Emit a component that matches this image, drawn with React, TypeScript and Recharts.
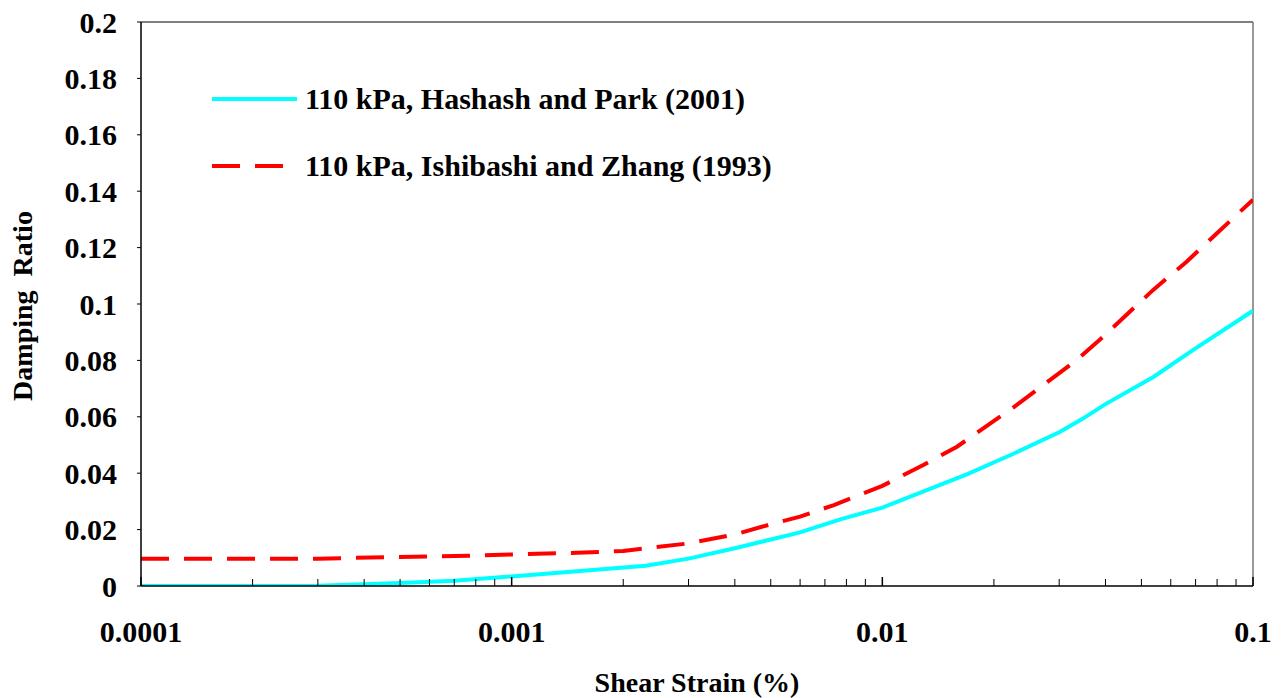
import React from 'react';
import { LineChart, Line, XAxis, YAxis, Legend, ReferenceLine, Label } from 'recharts';

// ---- Data ----
const hashashStrain = [0.0001, 0.0002, 0.0003, 0.0004, 0.0005, 0.0007, 0.001, 0.0015, 0.0023, 0.003, 0.004, 0.006, 0.0077, 0.01, 0.0169, 0.0225, 0.03, 0.0345, 0.04, 0.054, 0.069, 0.1];
const hashashDamping = [0, 0, 0.0001, 0.0006, 0.0011, 0.0019, 0.0034, 0.0052, 0.0072, 0.0097, 0.0134, 0.019, 0.0236, 0.0278, 0.0396, 0.0468, 0.0545, 0.0591, 0.0645, 0.0742, 0.0837, 0.0976];

const ishibashiStrain = [0.0001, 0.0003, 0.0005, 0.0007, 0.001, 0.0015, 0.002, 0.0023, 0.003, 0.004, 0.0051, 0.006, 0.0074, 0.01, 0.0129, 0.0159, 0.0225, 0.0277, 0.0334, 0.0394, 0.0538, 0.0662, 0.0798, 0.1];
const ishibashiDamping = [0.0097, 0.0097, 0.0103, 0.0106, 0.0112, 0.0118, 0.0124, 0.0134, 0.0151, 0.0183, 0.0222, 0.0246, 0.0287, 0.0355, 0.0429, 0.0494, 0.0632, 0.0721, 0.0801, 0.0884, 0.105, 0.115, 0.125, 0.137];

const seriesNames = ['110 kPa, Hashash and Park (2001)', '110 kPa, Ishibashi and Zhang (1993)'];

const xMajorTicks = [0.0001, 0.001, 0.01, 0.1];
const xTickLabels = ['0.0001', '0.001', '0.01', '0.1'];
const xMinorTicks = [
  0.0002, 0.0003, 0.0004, 0.0005, 0.0006, 0.0007, 0.0008, 0.0009,
  0.002, 0.003, 0.004, 0.005, 0.006, 0.007, 0.008, 0.009,
  0.02, 0.03, 0.04, 0.05, 0.06, 0.07, 0.08, 0.09,
];
const yTicks = [0, 0.02, 0.04, 0.06, 0.08, 0.1, 0.12, 0.14, 0.16, 0.18, 0.2];
const yTickLabels = ['0', '0.02', '0.04', '0.06', '0.08', '0.1', '0.12', '0.14', '0.16', '0.18', '0.2'];

const xTitle = 'Shear Strain (%)';
const yTitle = 'Damping  Ratio';

// ---- Styles ----
const FONT = "'Liberation Serif', 'Times New Roman', Times, serif";
const seriesColors = ['#00FFFF', '#FF0000'];
const seriesDash = [undefined, '28 15'];
const X_TICK_MARGIN = 35;

const hashashData = hashashStrain.map((x, i) => ({ x, y: hashashDamping[i] }));
const ishibashiData = ishibashiStrain.map((x, i) => ({ x, y: ishibashiDamping[i] }));
const allXTicks = [...xMajorTicks, ...xMinorTicks].sort((a, b) => a - b);

const XTick = (props: any) => {
  const { x, y, payload } = props;
  const v = payload?.value;
  const idx = xMajorTicks.indexOf(v);
  const axisY = y - X_TICK_MARGIN;
  const len = idx >= 0 ? 9 : 7;
  return (
    <g>
      <line x1={x} y1={axisY} x2={x} y2={axisY - len} stroke="#000" strokeWidth={idx >= 0 ? 1.5 : 1} />
      {idx >= 0 && (
        <text
          x={x}
          y={y}
          dy="0.71em"
          textAnchor="middle"
          fontFamily={FONT}
          fontWeight="bold"
          fontSize={30}
          fill="#000"
        >
          {xTickLabels[idx]}
        </text>
      )}
    </g>
  );
};

const XTitle = (props: any) => {
  const vb = props.viewBox || {};
  return (
    <text
      x={vb.x + vb.width / 2}
      y={vb.y + 106}
      textAnchor="middle"
      fontFamily={FONT}
      fontWeight="bold"
      fontSize={28}
      fill="#000"
    >
      {xTitle}
    </text>
  );
};

const YTitle = (props: any) => {
  const vb = props.viewBox || {};
  const cx = vb.x + 32;
  const cy = vb.y + vb.height / 2 + 2;
  return (
    <text
      x={cx}
      y={cy}
      transform={`rotate(-90, ${cx}, ${cy})`}
      textAnchor="middle"
      fontFamily={FONT}
      fontWeight="bold"
      fontSize={28}
      fill="#000"
      style={{ whiteSpace: 'pre' }}
    >
      {yTitle}
    </text>
  );
};

const LegendContent = () => (
  <svg width={620} height={110} style={{ display: 'block' }}>
    {seriesNames.map((name, i) => {
      const y = 19 + i * 67;
      return (
        <g key={name}>
          <line
            x1={0}
            y1={y}
            x2={85}
            y2={y}
            stroke={seriesColors[i]}
            strokeWidth={4}
            strokeDasharray={seriesDash[i]}
          />
          <text x={93} y={y + 10} fontFamily={FONT} fontWeight="bold" fontSize={30} fill="#000">
            {name}
          </text>
        </g>
      );
    })}
  </svg>
);

const tickStyle = { fill: '#000', fontSize: 30, fontWeight: 'bold', fontFamily: FONT };

export default function App() {
  return (
    <div style={{ position: 'absolute', left: 0, top: 0, width: 1288, height: 698, background: '#fff' }}>
      <LineChart width={1288} height={698} margin={{ top: 22, right: 35, left: 0, bottom: 0 }}>
        <XAxis
          xAxisId="main"
          type="number"
          dataKey="x"
          scale="log"
          domain={[0.0001, 0.1]}
          allowDataOverflow
          ticks={allXTicks}
          interval={0}
          height={112}
          tickLine={false}
          tickSize={0}
          tickMargin={X_TICK_MARGIN}
          axisLine={{ stroke: '#000', strokeWidth: 1.5 }}
          tick={XTick}
        >
          <Label content={XTitle} />
        </XAxis>
        <YAxis
          type="number"
          domain={[0, 0.2]}
          allowDataOverflow
          ticks={yTicks}
          interval={0}
          tickFormatter={(v: number) => yTickLabels[yTicks.indexOf(v)] ?? ''}
          width={141}
          tickSize={4}
          tickMargin={20}
          axisLine={{ stroke: '#000', strokeWidth: 1.5 }}
          tickLine={{ stroke: '#000', strokeWidth: 1 }}
          tick={tickStyle}
        >
          <Label content={YTitle} />
        </YAxis>
        <ReferenceLine xAxisId="main" y={0.2} stroke="#000" strokeWidth={1} />
        <ReferenceLine xAxisId="main" x={0.1} stroke="#777" strokeWidth={1.5} />
        <Legend
          layout="vertical"
          align="center"
          verticalAlign="middle"
          content={LegendContent}
          wrapperStyle={{ left: 212, top: 80, width: 620, height: 110 }}
        />
        <Line
          xAxisId="main"
          data={hashashData}
          dataKey="y"
          name={seriesNames[0]}
          type="linear"
          stroke={seriesColors[0]}
          strokeWidth={4}
          dot={false}
          activeDot={false}
          isAnimationActive={false}
        />
        <Line
          xAxisId="main"
          data={ishibashiData}
          dataKey="y"
          name={seriesNames[1]}
          type="linear"
          stroke={seriesColors[1]}
          strokeWidth={4}
          strokeDasharray={seriesDash[1]}
          dot={false}
          activeDot={false}
          isAnimationActive={false}
        />
      </LineChart>
    </div>
  );
}
